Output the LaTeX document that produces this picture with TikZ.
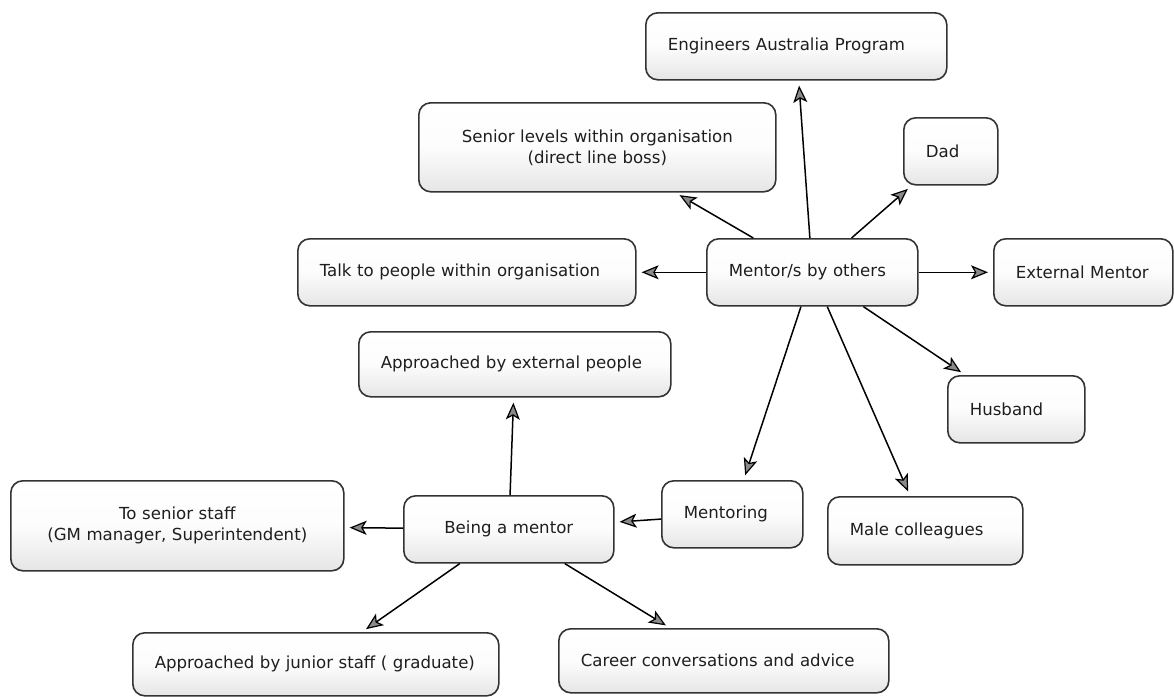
\documentclass[tikz,border=0pt]{standalone}
\usepackage{fontspec}
\setmainfont{DejaVu Sans}
\usetikzlibrary{arrows.meta}
\definecolor{bordc}{HTML}{333333}
\definecolor{txtc}{HTML}{1E1E1E}
\definecolor{tipc}{HTML}{8A8A8A}
\begin{document}
\begin{tikzpicture}[x=1pt,y=-1pt,
  box/.style={draw=bordc, line width=1.6pt, rounded corners=12pt,
    top color=white, bottom color=black!10, middle color=black!1,
    anchor=north west, inner xsep=22pt, inner ysep=2pt,
    font=\fontsize{16.6}{21}\selectfont, text=txtc, align=left},
  cbox/.style={box, align=center},
  arr/.style={draw=black, line width=1.5pt,
    -{Stealth[length=17pt,width=14pt,inset=4pt,fill=tipc,line width=1.2pt]},
    shorten >=5pt, shorten <=0pt}]
\useasboundingbox (0,0) rectangle (1174,696);
\fill[white] (0,0) rectangle (1174,696);

\node[box, minimum width=301pt, minimum height=67pt, text width=257pt] (eng) at (645,12) {Engineers Australia Program};
\node[cbox, minimum width=357pt, minimum height=89pt, text width=313pt] (senior) at (418,102) {Senior levels within organisation\\(direct line boss)};
\node[box, minimum width=94pt, minimum height=67pt, text width=50pt] (dad) at (903,117) {Dad};
\node[box, minimum width=338pt, minimum height=67pt, text width=294pt] (talk) at (297,238) {Talk to people within organisation};
\node[box, minimum width=211pt, minimum height=67pt, text width=167pt] (mentor) at (706,238) {Mentor/s by others};
\node[box, minimum width=179pt, minimum height=67pt, text width=135pt] (ext) at (993,238) {External Mentor};
\node[box, minimum width=137pt, minimum height=67pt, text width=93pt] (husband) at (947,375) {Husband};
\node[box, minimum width=312pt, minimum height=65pt, text width=268pt] (appext) at (358,331) {Approached by external people};
\node[cbox, minimum width=333pt, minimum height=90pt, text width=289pt] (tosenior) at (10,480) {To senior staff\\(GM manager, Superintendent)};
\node[cbox, minimum width=210pt, minimum height=67pt, text width=166pt] (being) at (403,495) {Being a mentor};
\node[box, minimum width=141pt, minimum height=67pt, text width=97pt] (mentoring) at (661,480) {Mentoring};
\node[box, minimum width=195pt, minimum height=68pt, text width=151pt] (male) at (827,496) {Male colleagues};
\node[box, minimum width=366pt, minimum height=63pt, text width=322pt] (junior) at (132,632) {Approached by junior staff ( graduate)};
\node[box, minimum width=330pt, minimum height=64pt, text width=286pt] (career) at (558,628) {Career conversations and advice};

\draw[arr] (mentor) -- (eng);
\draw[arr] (mentor) -- (senior);
\draw[arr] (mentor) -- (dad);
\draw[arr] (mentor) -- (talk);
\draw[arr] (mentor) -- (ext);
\draw[arr] (mentor) -- (husband);
\draw[arr] (mentor) -- (mentoring);
\draw[arr] (mentor) -- (male);
\draw[arr] (mentoring) -- (being);
\draw[arr] (being) -- (appext);
\draw[arr] (being) -- (tosenior);
\draw[arr] (being) -- (junior);
\draw[arr] (being) -- (career);
\end{tikzpicture}
\end{document}
